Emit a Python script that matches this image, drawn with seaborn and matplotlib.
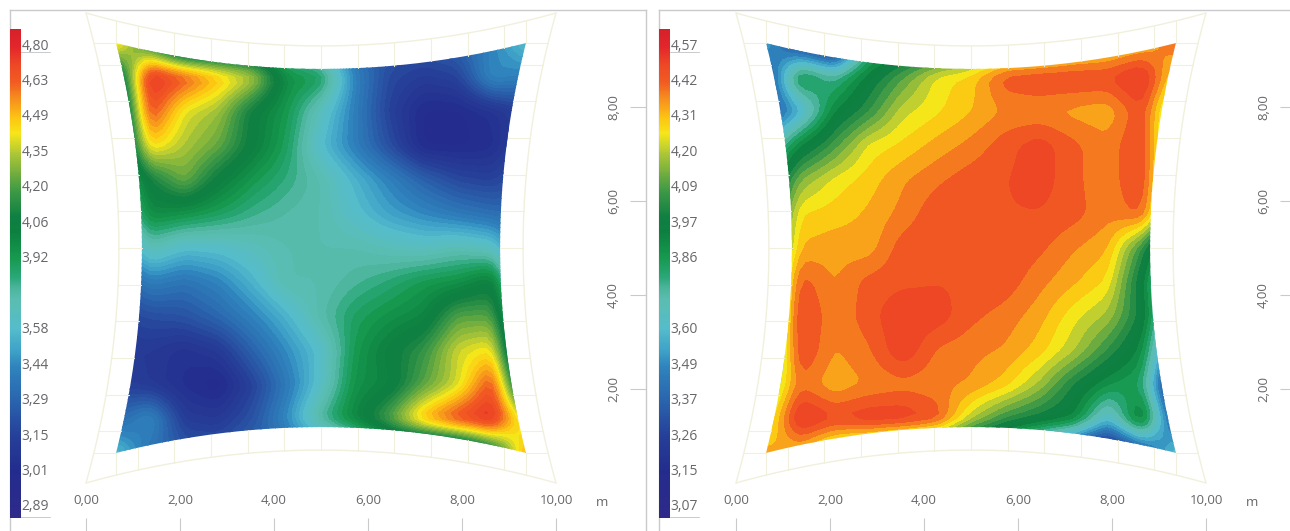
import numpy as np
import matplotlib
matplotlib.use("Agg")
import matplotlib.pyplot as plt
import seaborn as sns
from matplotlib.colors import LinearSegmentedColormap
from matplotlib.path import Path
from matplotlib.patches import PathPatch

# ---- data ----
left_ticks = [4.80, 4.63, 4.49, 4.35, 4.20, 4.06, 3.92, 3.75, 3.58, 3.44, 3.29, 3.15, 3.01, 2.89]
left_labels = ["4,80", "4,63", "4,49", "4,35", "4,20", "4,06", "3,92", "", "3,58", "3,44", "3,29", "3,15", "3,01", "2,89"]
right_ticks = [4.57, 4.42, 4.31, 4.20, 4.09, 3.97, 3.86, 3.73, 3.60, 3.49, 3.37, 3.26, 3.15, 3.07]
right_labels = ["4,57", "4,42", "4,31", "4,20", "4,09", "3,97", "3,86", "", "3,60", "3,49", "3,37", "3,26", "3,15", "3,07"]
axis_ticks = [0, 2, 4, 6, 8, 10]
x_tick_labels = ["0,00", "2,00", "4,00", "6,00", "8,00", "10,00"]
y_ticks = [2, 4, 6, 8]
y_tick_labels = ["2,00", "4,00", "6,00", "8,00"]

# rows run from the top of the membrane to the bottom
left_values = [
    [4.50, 4.10, 3.70, 3.70, 3.70, 3.60, 3.45, 3.30, 3.25, 3.25, 3.30, 3.42, 3.60],
    [3.90, 4.80, 4.66, 4.50, 4.36, 3.97, 3.90, 3.42, 3.18, 3.12, 3.15, 3.45, 3.40],
    [3.70, 4.68, 4.40, 4.32, 4.06, 3.92, 3.65, 3.40, 3.15, 3.00, 3.00, 3.05, 3.15],
    [3.70, 4.46, 4.34, 4.24, 4.05, 3.88, 3.58, 3.40, 3.20, 3.00, 3.00, 3.02, 3.20],
    [3.65, 4.08, 4.26, 4.05, 3.92, 3.82, 3.72, 3.55, 3.42, 3.28, 3.18, 3.15, 3.25],
    [3.50, 3.98, 3.94, 3.88, 3.80, 3.75, 3.72, 3.60, 3.50, 3.44, 3.38, 3.33, 3.30],
    [3.35, 3.70, 3.58, 3.60, 3.66, 3.72, 3.72, 3.72, 3.68, 3.65, 3.70, 3.65, 3.30],
    [3.20, 3.40, 3.35, 3.42, 3.55, 3.72, 3.72, 3.78, 3.84, 3.92, 3.95, 4.05, 3.30],
    [3.15, 3.20, 3.22, 3.30, 3.42, 3.55, 3.74, 3.88, 3.95, 4.00, 4.22, 4.22, 3.40],
    [3.10, 3.10, 3.05, 3.10, 3.28, 3.45, 3.60, 3.92, 4.05, 4.16, 4.38, 4.44, 3.50],
    [3.15, 3.10, 3.03, 2.98, 3.15, 3.38, 3.62, 3.95, 4.02, 4.22, 4.38, 4.68, 3.80],
    [3.30, 3.45, 3.12, 3.10, 3.22, 3.45, 3.78, 4.00, 4.22, 4.52, 4.70, 4.80, 4.35],
    [3.60, 3.35, 3.25, 3.25, 3.32, 3.30, 3.30, 3.40, 3.60, 3.55, 3.65, 4.00, 4.55],
]
right_values = [
    [3.55, 3.25, 3.10, 3.70, 3.85, 3.85, 3.95, 4.05, 4.10, 4.20, 4.25, 4.30, 4.42],
    [3.30, 3.90, 3.75, 3.95, 4.10, 4.25, 4.30, 4.44, 4.47, 4.47, 4.47, 4.57, 4.25],
    [3.30, 3.55, 3.92, 4.05, 4.22, 4.27, 4.32, 4.37, 4.37, 4.35, 4.33, 4.46, 4.10],
    [3.60, 3.92, 4.08, 4.25, 4.29, 4.34, 4.38, 4.44, 4.50, 4.42, 4.38, 4.48, 4.05],
    [3.80, 4.15, 4.25, 4.30, 4.36, 4.40, 4.44, 4.46, 4.50, 4.42, 4.38, 4.48, 4.00],
    [3.85, 4.28, 4.30, 4.33, 4.38, 4.45, 4.46, 4.46, 4.46, 4.43, 4.38, 4.42, 3.95],
    [3.85, 4.33, 4.35, 4.34, 4.44, 4.46, 4.46, 4.46, 4.42, 4.37, 4.33, 4.05, 3.60],
    [3.90, 4.44, 4.36, 4.43, 4.45, 4.46, 4.46, 4.44, 4.38, 4.33, 4.27, 3.95, 3.40],
    [3.90, 4.50, 4.37, 4.44, 4.52, 4.50, 4.42, 4.39, 4.34, 4.25, 4.18, 3.98, 3.45],
    [3.95, 4.48, 4.36, 4.40, 4.52, 4.40, 4.38, 4.36, 4.30, 4.20, 4.05, 3.90, 3.30],
    [4.10, 4.40, 4.33, 4.37, 4.39, 4.38, 4.36, 4.30, 4.18, 4.00, 3.88, 3.82, 3.10],
    [4.20, 4.57, 4.48, 4.52, 4.52, 4.45, 4.20, 4.05, 3.98, 3.92, 3.58, 3.98, 3.30],
    [4.35, 4.30, 4.15, 4.05, 3.90, 3.80, 3.70, 3.60, 3.35, 3.15, 3.07, 3.30, 3.65],
]

# ---- style ----
sns.set_theme(style="white")
plt.rcParams["font.family"] = ["Open Sans", "DejaVu Sans"]
TEXT = "#66676a"
FRAME = "#c9cacb"
PALE = "#f1f0dc"
W, H = 1290, 531
PX = 47.0            # pixels per metre
bar_stops = [(29, "#d7202a"), (46, "#e3262b"), (65, "#ee4a25"), (81, "#f15a22"), (100, "#f7941d"),
             (118, "#fcc612"), (133, "#f6e61a"), (153, "#aec736"), (175, "#6cab3f"), (190, "#3f9a46"),
             (217, "#0f7f42"), (232, "#0d8040"), (258, "#16994f"), (278, "#2ba87a"), (288, "#4cb59c"),
             (300, "#5bbdb0"), (329, "#55bccb"), (350, "#3fa3c8"), (367, "#2f84bd"), (400, "#2a65ae"),
             (437, "#263f98"), (472, "#232c8d"), (518, "#2e2a8a")]
cmap = LinearSegmentedColormap.from_list(
    "membrane", [((518 - y) / 489.0, c) for y, c in reversed(bar_stops)], N=512)

fig = plt.figure(figsize=(W / 100, H / 100), dpi=100)


def px_axes(x0, y0, x1, y1):
    return fig.add_axes([x0 / W, 1 - y1 / H, (x1 - x0) / W, (y1 - y0) / H])


def sag(t, amount):
    return amount * (1 - ((t - 5) / 5.0) ** 2)


def soften(z, factor=6, passes=2):
    """Resample the read-off grid finer and round its creases slightly."""
    n, m = z.shape
    fy = np.linspace(0, n - 1, (n - 1) * factor + 1)
    fx = np.linspace(0, m - 1, (m - 1) * factor + 1)
    z = np.array([np.interp(fx, np.arange(m), row) for row in z])
    z = np.array([np.interp(fy, np.arange(n), col) for col in z.T]).T
    kernel = np.array([1, 2, 1]) / 4
    for _ in range(passes):
        z = np.apply_along_axis(lambda a: np.convolve(np.pad(a, 1, mode="edge"), kernel, "valid"), 0, z)
        z = np.apply_along_axis(lambda a: np.convolve(np.pad(a, 1, mode="edge"), kernel, "valid"), 1, z)
    return z


def panel(values, ticks, labels, dx, frame_left, n_levels):
    # main frame -----------------------------------------------------------
    x_origin = 86 + dx
    right = 646 + dx
    ax = px_axes(frame_left, 10, right, 531)
    ax.set_xlim((frame_left - x_origin) / PX, (right - x_origin) / PX)
    ax.set_ylim((483 - 531) / PX, (483 - 10) / PX)
    for side in ("left", "top", "right"):
        ax.spines[side].set_visible(True)
        ax.spines[side].set_color(FRAME)
        ax.spines[side].set_linewidth(1.0)
    ax.spines["bottom"].set_visible(False)

    ax.set_xticks(axis_ticks, x_tick_labels)
    ax.tick_params(axis="x", bottom=True, direction="in", length=9.4, width=0.8, color=FRAME,
                   labelsize=9.5, labelcolor=TEXT, pad=-26.5)
    ax.yaxis.tick_right()
    ax.set_yticks(y_ticks, y_tick_labels, rotation=90, va="center")
    ax.tick_params(axis="y", right=True, direction="in", length=11.5, width=0.8, color=FRAME,
                   labelsize=9.5, labelcolor=TEXT, pad=-28)
    ax.text(10.98, (483 - 502) / PX, "m", color=TEXT, fontsize=9.5, ha="center", va="center")

    # membrane surface -----------------------------------------------------
    lo, hi = 0.64, 9.36
    inner_sag = 0.55
    outer_sag = 0.70
    asc_v = np.array(ticks[::-1])
    asc_y = (46 + 35.46 * np.arange(len(ticks)))[::-1]
    tpos = (518 - np.interp(np.array(values), asc_v, asc_y)) / 489.0
    fine = soften(tpos)
    gx = np.linspace(lo, hi, fine.shape[1])
    gy = np.linspace(hi, lo, fine.shape[0])
    levels = np.linspace(0, 1, n_levels)
    cs = ax.contourf(gx, gy, fine, levels=levels, cmap=cmap, vmin=0, vmax=1, extend="both")

    t = np.linspace(lo, hi, 80)
    s = inner_sag * (1 - ((t - 5) / (hi - 5)) ** 2)
    verts = np.vstack([
        np.c_[t, lo + s],
        np.c_[hi - s, t],
        np.c_[t[::-1], hi - s[::-1]],
        np.c_[lo + s[::-1], t[::-1]],
    ])
    clip = PathPatch(Path(verts, closed=False), transform=ax.transData, fc="none", ec="none")
    ax.add_patch(clip)
    cs.set_clip_path(clip)

    # pale supporting outline ----------------------------------------------
    u = np.linspace(0, 10, 120)
    o = sag(u, outer_sag)
    for xs, ys in [(u, o), (u, 10 - o), (o, u), (10 - o, u)]:
        ax.plot(xs, ys, color=PALE, lw=1.0, zorder=1)
    for q in 5 + 0.78 * np.arange(-5, 6):
        os_ = sag(q, outer_sag)
        is_ = inner_sag * (1 - ((q - 5) / (hi - 5)) ** 2)
        for a, b in [(os_, lo + is_), (10 - os_, hi - is_)]:
            ax.plot([q, q], [a, b], color=PALE, lw=0.8, zorder=1)
            ax.plot([a, b], [q, q], color=PALE, lw=0.8, zorder=1)
    for q in (lo, hi):
        os_ = sag(q, outer_sag)
        for a, b in [(os_, lo), (10 - os_, hi)]:
            ax.plot([q, q], [a, b], color=PALE, lw=0.8, zorder=1)
            ax.plot([a, b], [q, q], color=PALE, lw=0.8, zorder=1)

    # colour scale strip -----------------------------------------------------
    strip_x = frame_left
    cb = px_axes(strip_x, 29, strip_x + 11, 518)
    sns.heatmap(np.linspace(1, 0, 489)[:, None], cmap=cmap, vmin=0, vmax=1, cbar=False,
                xticklabels=False, yticklabels=False, ax=cb)
    cb.yaxis.tick_right()
    pos = 46 + 35.46 * np.arange(len(ticks)) - 29
    keep = [i for i, l in enumerate(labels) if l]
    cb.set_yticks(pos[keep], [labels[i] for i in keep], rotation=0, va="center")
    cb.tick_params(axis="y", right=False, left=False, length=0, labelsize=10, labelcolor=TEXT, pad=0.5)
    # short rules under the end labels
    for y in (52, 517):
        ax.plot([(strip_x + 11 - x_origin) / PX, (strip_x + 40 - x_origin) / PX],
                [(483 - y) / PX] * 2, color=FRAME, lw=0.7, zorder=1)


panel(left_values, left_ticks, left_labels, 0, 10, 64)
panel(right_values, right_ticks, right_labels, 650, 659, 36)

fig.savefig("out.png", dpi=100, facecolor="white")
